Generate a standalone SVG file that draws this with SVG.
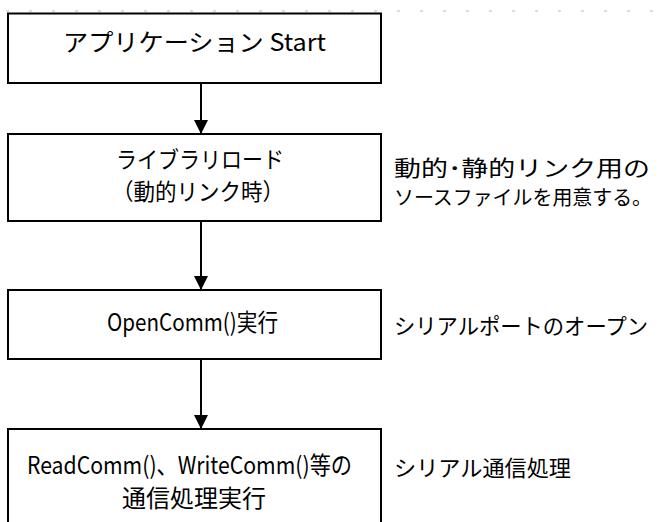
<svg xmlns="http://www.w3.org/2000/svg" width="662" height="522" viewBox="0 0 662 522">
  <defs>
    <style>
      .box { fill: #ffffff; stroke: #000000; stroke-width: 2; }
      .t { font-family: "Noto Sans CJK JP", "Liberation Sans", sans-serif; font-size: 24px; fill: #000000; }
      .r { font-family: "Noto Sans CJK JP", "Liberation Sans", sans-serif; font-size: 22px; fill: #000000; }
      .conn { stroke: #000000; stroke-width: 2; fill: none; }
      .grid { stroke: #b8b8b8; stroke-width: 1; stroke-dasharray: 3 20; fill: none; }
    </style>
    <marker id="arrow" markerWidth="14" markerHeight="15" refX="14" refY="7" orient="auto" markerUnits="userSpaceOnUse">
      <path d="M0,0 L14,7 L0,14 Z" fill="#000000"/>
    </marker>
  </defs>
  <rect width="662" height="522" fill="#ffffff"/>

  <g id="connectors">
    <line class="conn" x1="201" y1="83" x2="201" y2="134" marker-end="url(#arrow)"/>
    <line class="conn" x1="201" y1="221" x2="201" y2="290" marker-end="url(#arrow)"/>
    <line class="conn" x1="201" y1="359" x2="201" y2="429" marker-end="url(#arrow)"/>
  </g>

  <g id="node-start">
    <rect class="box" x="8" y="13.5" width="373" height="69.5"/>
    <text class="t" x="63" y="51" textLength="263" lengthAdjust="spacingAndGlyphs">アプリケーション Start</text>
  </g>

  <g id="node-load">
    <rect class="box" x="8" y="134" width="373" height="87"/>
    <text class="t" x="116" y="168" style="font-size:23px" textLength="168" lengthAdjust="spacingAndGlyphs">ライブラリロード</text>
    <text class="t" x="112" y="200" style="font-size:23px" textLength="172" lengthAdjust="spacingAndGlyphs">（動的リンク時）</text>
  </g>

  <g id="node-open">
    <rect class="box" x="8" y="290" width="373" height="69"/>
    <text class="t" x="107" y="331" textLength="171" lengthAdjust="spacingAndGlyphs">OpenComm()実行</text>
  </g>

  <g id="node-comm">
    <rect class="box" x="8" y="429" width="373" height="110"/>
    <text class="t" x="27" y="474" textLength="325" lengthAdjust="spacingAndGlyphs">ReadComm()、WriteComm()等の</text>
    <text class="t" x="122" y="507" textLength="144" lengthAdjust="spacingAndGlyphs">通信処理実行</text>
  </g>

  <g id="notes">
    <text class="r" x="394" y="176" textLength="256" lengthAdjust="spacingAndGlyphs">動的･静的リンク用の</text>
    <text class="r" x="394" y="205" style="font-size:20px" textLength="258" lengthAdjust="spacingAndGlyphs">ソースファイルを用意する。</text>
    <text class="r" x="394" y="334" textLength="254" lengthAdjust="spacingAndGlyphs">シリアルポートのオープン</text>
    <text class="r" x="394" y="476" textLength="177" lengthAdjust="spacingAndGlyphs">シリアル通信処理</text>
  </g>

  <line class="grid" x1="6" y1="11" x2="662" y2="11"/>
</svg>
